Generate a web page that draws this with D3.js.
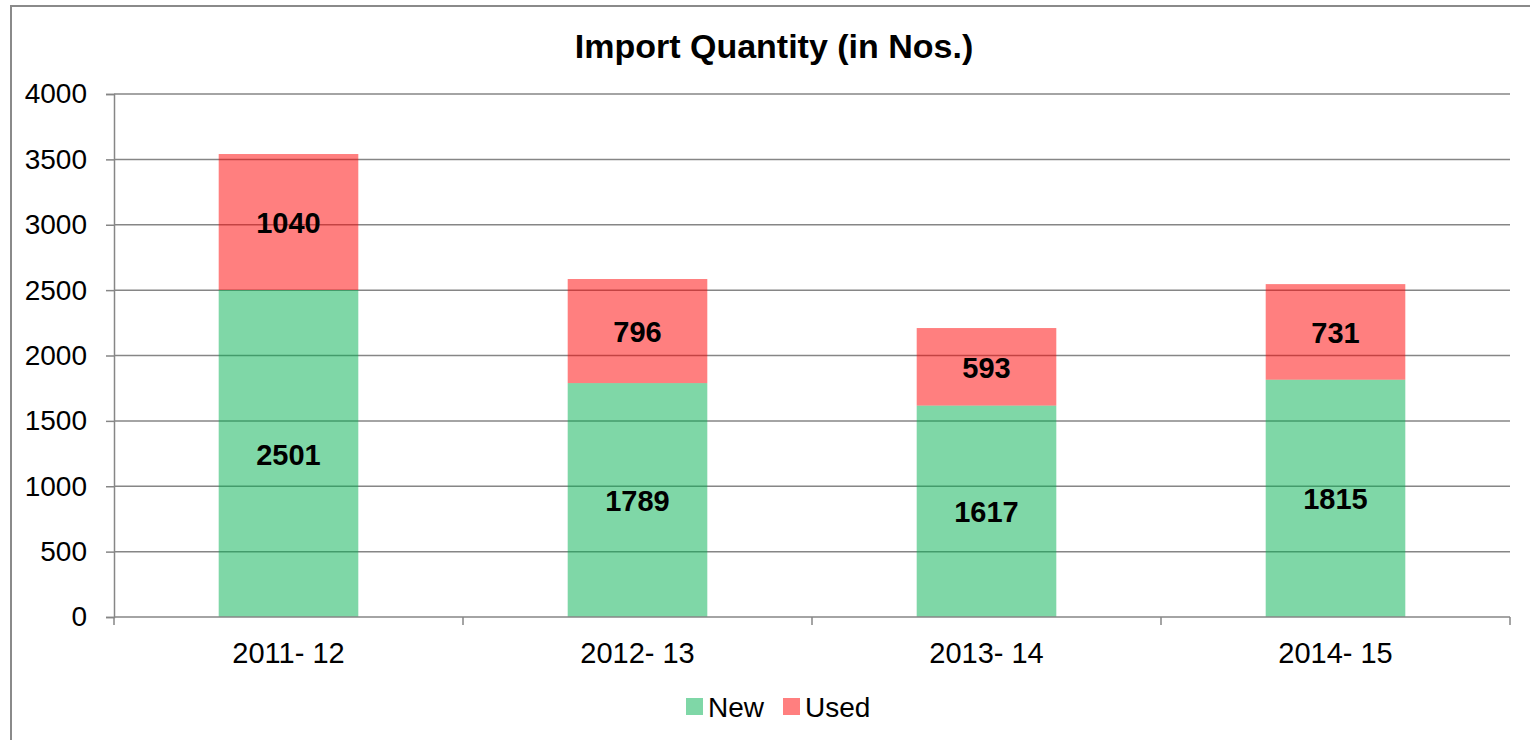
<!DOCTYPE html>
<html>
<head>
<meta charset="utf-8">
<script src="https://cdnjs.cloudflare.com/ajax/libs/d3/7.8.5/d3.min.js"></script>
<style>
  body { margin: 0; background: #fff; }
  svg { font-family: "Liberation Sans", Arial, sans-serif; }
</style>
</head>
<body>
<svg width="1530" height="740"></svg>
<script>
var years = ["2011- 12", "2012- 13", "2013- 14", "2014- 15"];
var newQty = [2501, 1789, 1617, 1815];
var usedQty = [1040, 796, 593, 731];
var yTicks = [0, 500, 1000, 1500, 2000, 2500, 3000, 3500, 4000];
var seriesNames = ["New", "Used"];
var seriesColors = ["#00B050", "#FF0000"];

var draw = function()
{
var svg = d3.select("svg");

// outer chart frame (runs off right/bottom edge)
svg.append("rect")
  .attr("x", 11).attr("y", 6)
  .attr("width", 1540).attr("height", 760)
  .style("fill", "none")
  .style("stroke", "#8a8a8a")
  .style("stroke-width", 2);

var pLeft = 114, pRight = 1510, pTop = 94, pBottom = 617;

var x = d3.scaleBand()
  .domain(years)
  .range([pLeft, pRight])
  .paddingInner(0.6)
  .paddingOuter(0.3);

var y = d3.scaleLinear()
  .domain([0, 4000])
  .range([pBottom, pTop]);

// title
svg.append("text")
  .attr("x", 774).attr("y", 58)
  .attr("text-anchor", "middle")
  .style("font-size", "34px")
  .style("font-weight", "bold")
  .text("Import Quantity (in Nos.)");

// gridlines
svg.selectAll("line.grid")
  .data(yTicks.filter(function(d) { return d > 0; }))
  .enter().append("line")
  .attr("class", "grid")
  .attr("x1", pLeft).attr("x2", pRight)
  .attr("y1", function(d) { return y(d); })
  .attr("y2", function(d) { return y(d); })
  .style("stroke", "#868686")
  .style("stroke-width", 1.5);

// stacked bars
var segs = [];
years.forEach(function(c, i) {
  segs.push({ key: 0, c: c, y0: 0, y1: newQty[i], v: newQty[i] });
  segs.push({ key: 1, c: c, y0: newQty[i], y1: newQty[i] + usedQty[i], v: usedQty[i] });
});

svg.selectAll("rect.bar")
  .data(segs)
  .enter().append("rect")
  .attr("class", "bar")
  .attr("x", function(d) { return x(d.c); })
  .attr("width", x.bandwidth())
  .attr("y", function(d) { return y(d.y1); })
  .attr("height", function(d) { return y(d.y0) - y(d.y1); })
  .style("fill", function(d) { return seriesColors[d.key]; })
  .style("fill-opacity", 0.5);

// y axis
var yAxis = svg.append("g")
  .attr("transform", "translate(" + pLeft + ",0)")
  .call(d3.axisLeft(y).tickValues(yTicks).tickSize(8).tickPadding(19).tickFormat(d3.format("d")));
yAxis.selectAll("path, line").style("stroke", "#868686").style("stroke-width", 1.5);
yAxis.selectAll("text").style("font-size", "28px").style("fill", "#000")
  .style("font-family", "Liberation Sans, Arial, sans-serif");

// x axis line and boundary ticks
svg.append("line")
  .attr("x1", pLeft).attr("x2", pRight)
  .attr("y1", pBottom).attr("y2", pBottom)
  .style("stroke", "#868686").style("stroke-width", 1.5);
var bounds = years.map(function(c) { return x(c) - x.step() * 0.3; }).concat([pRight]);
svg.selectAll("line.xtick")
  .data(bounds)
  .enter().append("line")
  .attr("class", "xtick")
  .attr("x1", function(d) { return d; }).attr("x2", function(d) { return d; })
  .attr("y1", pBottom).attr("y2", pBottom + 8)
  .style("stroke", "#868686").style("stroke-width", 1.5);

svg.selectAll("text.xlab")
  .data(years)
  .enter().append("text")
  .attr("class", "xlab")
  .attr("x", function(d) { return x(d) + x.bandwidth() / 2; })
  .attr("y", 663)
  .attr("text-anchor", "middle")
  .style("font-size", "29px")
  .text(function(d) { return d; });

// data labels
svg.selectAll("text.val")
  .data(segs)
  .enter().append("text")
  .attr("class", "val")
  .attr("x", function(d) { return x(d.c) + x.bandwidth() / 2; })
  .attr("y", function(d) { return (y(d.y0) + y(d.y1)) / 2; })
  .attr("dy", "0.38em")
  .attr("text-anchor", "middle")
  .style("font-size", "29px")
  .style("font-weight", "bold")
  .text(function(d) { return d.v; });

// legend
var legX = [686, 783];
var leg = svg.selectAll("g.leg")
  .data(seriesNames)
  .enter().append("g")
  .attr("class", "leg")
  .attr("transform", function(d, i) { return "translate(" + legX[i] + ",698)"; });
leg.append("rect")
  .attr("width", 17).attr("height", 17)
  .style("fill", function(d, i) { return seriesColors[i]; })
  .style("fill-opacity", 0.5);
leg.append("text")
  .attr("x", 22).attr("y", 19)
  .style("font-size", "28px")
  .text(function(d) { return d; });
}

draw();
</script>
</body>
</html>
